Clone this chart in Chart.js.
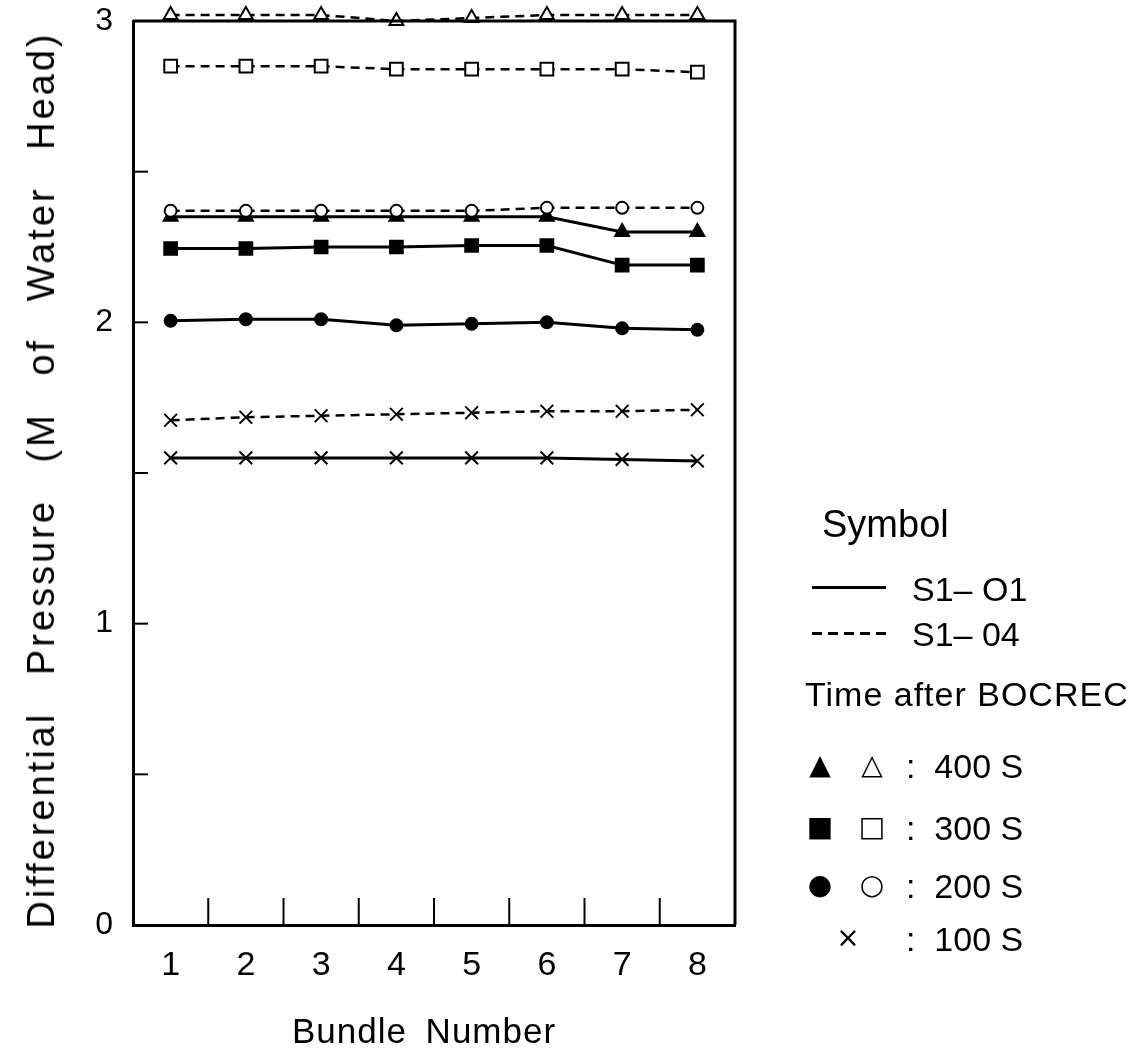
<!DOCTYPE html>
<html>
<head>
<meta charset="utf-8">
<script src="https://cdn.jsdelivr.net/npm/chart.js@4/dist/chart.umd.min.js"></script>
<style>
  html, body { margin: 0; padding: 0; background: #fff; }
  #wrap { position: relative; width: 1146px; height: 1062px; font-family: "Liberation Sans", Arial, sans-serif; color: #000; }
  #chart { position: absolute; left: 0; top: 0; }
  .t { position: absolute; white-space: pre; line-height: 1; }
  .ytitle { left: 41px; top: 480px; font-size: 38px; letter-spacing: 3px; word-spacing: 23px;
            transform: translate(-50%, -50%) rotate(-90deg); }
  .xtitle { left: 424px; top: 1030px; font-size: 35px; letter-spacing: 1px; word-spacing: 8px; transform: translate(-50%, -50%); }
  .leg { font-size: 34px; }
  .sym { position: absolute; font-family: "DejaVu Sans", sans-serif; font-size: 28px; line-height: 1; transform: translate(-50%, -50%); }
  .solid { position: absolute; height: 3px; background: #000; }
  .dash { position: absolute; height: 3px; background: repeating-linear-gradient(90deg, #000 0 10px, transparent 10px 16px); }
</style>
</head>
<body>
<div id="wrap">
  <canvas id="chart" width="1146" height="1062"></canvas>
  <div class="t ytitle">Differential Pressure (M of Water Head)</div>
  <div class="t xtitle">Bundle Number</div>

  <div class="t leg" style="left:822px; top:505px; font-size:38px;">Symbol</div>
  <div class="solid" style="left:812px; top:586px; width:74px;"></div>
  <div class="t leg" style="left:912px; top:572px;">S1– O1</div>
  <div class="dash" style="left:812px; top:632px; width:74px;"></div>
  <div class="t leg" style="left:912px; top:617px;">S1– 04</div>
  <div class="t leg" style="left:805px; top:677px; font-size:34px; letter-spacing:1px;">Time after BOCREC</div>

  <div class="sym" style="left:820px; top:765px;">▲</div>
  <div class="sym" style="left:872px; top:765px;">△</div>
  <div class="t leg" style="left:906px; top:749px;">:  400 S</div>

  <div class="sym" style="left:820px; top:827px;">■</div>
  <div class="sym" style="left:872px; top:827px;">□</div>
  <div class="t leg" style="left:906px; top:811px;">:  300 S</div>

  <div class="sym" style="left:820px; top:885px;">●</div>
  <div class="sym" style="left:872px; top:885px;">○</div>
  <div class="t leg" style="left:906px; top:869px;">:  200 S</div>

  <div class="sym" style="left:848px; top:938px;">×</div>
  <div class="t leg" style="left:906px; top:922px;">:  100 S</div>
</div>
<script>
// bundle numbers along the x axis
const bundles = [1, 2, 3, 4, 5, 6, 7, 8];
const yTickValues = [0, 1, 2, 3];

// S1-01 (solid lines, filled symbols)
const s101_400 = [2.35, 2.35, 2.35, 2.35, 2.35, 2.35, 2.30, 2.30];
const s101_300 = [2.245, 2.245, 2.25, 2.25, 2.255, 2.255, 2.19, 2.19];
const s101_200 = [2.005, 2.01, 2.01, 1.99, 1.995, 2.0, 1.98, 1.975];
const s101_100 = [1.55, 1.55, 1.55, 1.55, 1.55, 1.55, 1.545, 1.54];

// S1-04 (dashed lines, open symbols)
const s104_400 = [3.02, 3.02, 3.02, 3.00, 3.01, 3.02, 3.02, 3.02];
const s104_300 = [2.85, 2.85, 2.85, 2.84, 2.84, 2.84, 2.84, 2.83];
const s104_200 = [2.37, 2.37, 2.37, 2.37, 2.37, 2.38, 2.38, 2.38];
const s104_100 = [1.675, 1.685, 1.69, 1.695, 1.70, 1.705, 1.705, 1.71];

const pts = vals => bundles.map((b, i) => ({ x: b, y: vals[i] }));

function series(label, vals, shape, radius, filled, dashed) {
	return {
		label: label,
		data: pts(vals),
		borderColor: '#000',
		borderWidth: dashed ? 2.5 : 3,
		borderDash: dashed ? [9, 6] : [],
		pointStyle: shape,
		pointRadius: radius,
		pointBorderWidth: 2,
		pointBorderColor: '#000',
		pointBackgroundColor: filled ? '#000' : '#fff',
		tension: 0,
		clip: false,
	};
}

// frame + inward tick marks
const frame = {
	id: 'frame',
	afterDatasetsDraw(chart) {
		const { ctx, chartArea: a, scales: { x, y } } = chart;
		ctx.save();
		ctx.strokeStyle = '#000';
		ctx.lineWidth = 3;
		ctx.beginPath();
		ctx.moveTo(a.left, a.top);
		ctx.lineTo(a.right, a.top);
		ctx.lineTo(a.right, a.bottom);
		ctx.stroke();
		ctx.lineWidth = 2;
		for (let v = 1.5; v < 8.5; v += 1) {
			const px = x.getPixelForValue(v);
			ctx.beginPath();
			ctx.moveTo(px, a.bottom);
			ctx.lineTo(px, a.bottom - 27);
			ctx.stroke();
		}
		for (let v = 0.5; v < 3; v += 0.5) {
			const py = y.getPixelForValue(v);
			ctx.beginPath();
			ctx.moveTo(a.left, py);
			ctx.lineTo(a.left + 15, py);
			ctx.stroke();
		}
		ctx.restore();
	}
};

new Chart(document.getElementById('chart'), {
	type: 'line',
	data: {
		datasets: [
			series('S1-04 400S', s104_400, 'triangle', 8, false, true),
			series('S1-04 300S', s104_300, 'rect', 9, false, true),
			series('S1-04 200S', s104_200, 'circle', 6, false, true),
			series('S1-04 100S', s104_100, 'crossRot', 9, false, true),
			series('S1-01 400S', s101_400, 'triangle', 8, true, false),
			series('S1-01 300S', s101_300, 'rect', 9, true, false),
			series('S1-01 200S', s101_200, 'circle', 6, true, false),
			series('S1-01 100S', s101_100, 'crossRot', 9, true, false),
		]
	},
	options: {
		responsive: false,
		animation: false,
		layout: { padding: { left: 0, top: 21, right: 411, bottom: 0 } },
		plugins: { legend: { display: false }, tooltip: { enabled: false } },
		scales: {
			x: {
				type: 'linear',
				min: 0.5,
				max: 8.5,
				afterBuildTicks: s => { s.ticks = bundles.map(v => ({ value: v })); },
				afterFit: s => { s.height = 137; s.paddingLeft = 0; s.paddingRight = 0; },
				grid: { display: false, drawTicks: false },
				border: { display: true, color: '#000', width: 3 },
				ticks: { color: '#000', padding: 20, font: { family: 'Liberation Sans', size: 34 } }
			},
			y: {
				min: 0,
				max: 3,
				afterBuildTicks: s => { s.ticks = yTickValues.map(v => ({ value: v })); },
				afterFit: s => { s.width = 133; s.paddingTop = 0; s.paddingBottom = 0; },
				grid: { display: false, drawTicks: false },
				border: { display: true, color: '#000', width: 3 },
				ticks: { color: '#000', padding: 20, font: { family: 'Liberation Sans', size: 32 } }
			}
		}
	},
	plugins: [frame]
});
</script>
</body>
</html>
